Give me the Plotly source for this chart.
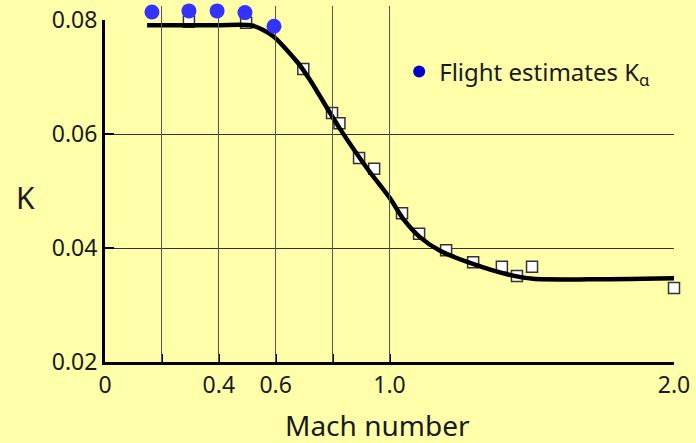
import plotly.graph_objects as go

# Flight-derived estimates of K_alpha
flight_mach = [0.165, 0.295, 0.394, 0.492, 0.594]
flight_k = [0.0814, 0.0816, 0.0816, 0.0813, 0.0789]

# Wind-tunnel / reference points (open squares)
test_mach = [0.295, 0.496, 0.697, 0.798, 0.824, 0.893, 0.946, 1.044, 1.104,
             1.199, 1.294, 1.395, 1.448, 1.501, 2.0]
test_k = [0.0797, 0.0795, 0.0714, 0.0637, 0.0619, 0.0558, 0.0539, 0.0461,
          0.0425, 0.0396, 0.0375, 0.0367, 0.0351, 0.0367, 0.0330]

# Faired curve through the data
curve_mach = [0.148, 0.40, 0.52, 0.59, 0.678, 0.72, 0.791, 0.826, 0.921, 1.002,
              1.047, 1.107, 1.178, 1.288, 1.413, 1.505, 1.70, 2.0]
curve_k = [0.0791, 0.0791, 0.0790, 0.0772, 0.0725, 0.0695, 0.0637, 0.0609, 0.0540,
           0.0487, 0.0452, 0.0419, 0.0395, 0.0373, 0.0354, 0.0346, 0.0345, 0.0347]

x_ticks = [0, 0.2, 0.4, 0.6, 0.8, 1.0, 2.0]
x_labels = ["0", "", "0.4", "0.6", "", "1.0", "2.0"]
y_ticks = [0.02, 0.04, 0.06, 0.08]
y_labels = ["0.02", "0.04", "0.06", "0.08"]
y_min, y_max = 0.02, 0.08

BG = "#FFFFAA"
FONT = "Noto Sans"
TXT = "#1a1a1a"

# Geometry: the framed plot is 342 px tall; a little headroom above it lets
# the flight points sit above the 0.08 line on a hidden twin axis.
W, H = 696, 443
M_TOP, M_BOT = 6, 81
frame_px = 342
total_px = H - M_TOP - M_BOT
dom_top = frame_px / total_px
y2_max = y_min + (y_max - y_min) * total_px / frame_px

fig = go.Figure()

fig.add_trace(go.Scatter(
    x=test_mach, y=test_k, mode="markers", showlegend=False,
    marker=dict(symbol="square", size=11, color="white",
                line=dict(color="#333333", width=1.5)),
    cliponaxis=False,
))

fig.add_trace(go.Scatter(
    x=curve_mach, y=curve_k, mode="lines", showlegend=False,
    line=dict(color="black", width=4.5, shape="spline", smoothing=0.7),
    cliponaxis=False,
))

fig.add_trace(go.Scatter(
    x=flight_mach, y=flight_k, mode="markers", showlegend=False,
    marker=dict(symbol="circle", size=15, color="#3333FF"),
    cliponaxis=False, yaxis="y2",
))

# Legend-only entry
fig.add_trace(go.Scatter(
    x=[None], y=[None], mode="markers",
    name="Flight estimates K<sub>α</sub>",
    marker=dict(symbol="circle", size=12, color="#0000CC"),
))

fig.update_layout(
    width=W, height=H,
    paper_bgcolor=BG, plot_bgcolor="rgba(0,0,0,0)",
    margin=dict(l=105, r=22, t=M_TOP, b=M_BOT, autoexpand=False),
    font=dict(family=FONT, color=TXT),
    showlegend=True,
    legend=dict(
        x=0.517, y=0.815, xanchor="left", yanchor="middle",
        bgcolor="rgba(0,0,0,0)", font=dict(size=24, color=TXT),
        itemwidth=30,
    ),
    xaxis=dict(
        range=[0, 2.0], tickmode="array", tickvals=x_ticks, ticktext=x_labels,
        showgrid=True, gridcolor="#555555", gridwidth=1,
        showline=True, linecolor="black", linewidth=3,
        ticks="inside", ticklen=8, tickwidth=2, tickcolor="black",
        tickfont=dict(size=23, color=TXT), zeroline=False,
    ),
    yaxis=dict(
        domain=[0, dom_top],
        range=[y_min, y_max], tickmode="array", tickvals=y_ticks, ticktext=y_labels,
        showgrid=True, gridcolor="#333333", gridwidth=1,
        showline=True, linecolor="black", linewidth=3,
        ticks="inside", ticklen=9, tickwidth=2, tickcolor="black",
        tickfont=dict(size=23, color=TXT), zeroline=False,
    ),
    yaxis2=dict(
        domain=[0, 1], anchor="x", range=[y_min, y2_max], visible=False,
    ),
    annotations=[
        dict(text="Mach number", xref="paper", yref="paper", x=0.479, y=-0.178,
             xanchor="center", yanchor="middle", showarrow=False,
             font=dict(size=28, color=TXT)),
        dict(text="K", xref="paper", yref="paper", x=-0.139, y=0.462,
             xanchor="center", yanchor="middle", showarrow=False,
             font=dict(size=30, color=TXT)),
    ],
)

fig.write_html("out.html")
